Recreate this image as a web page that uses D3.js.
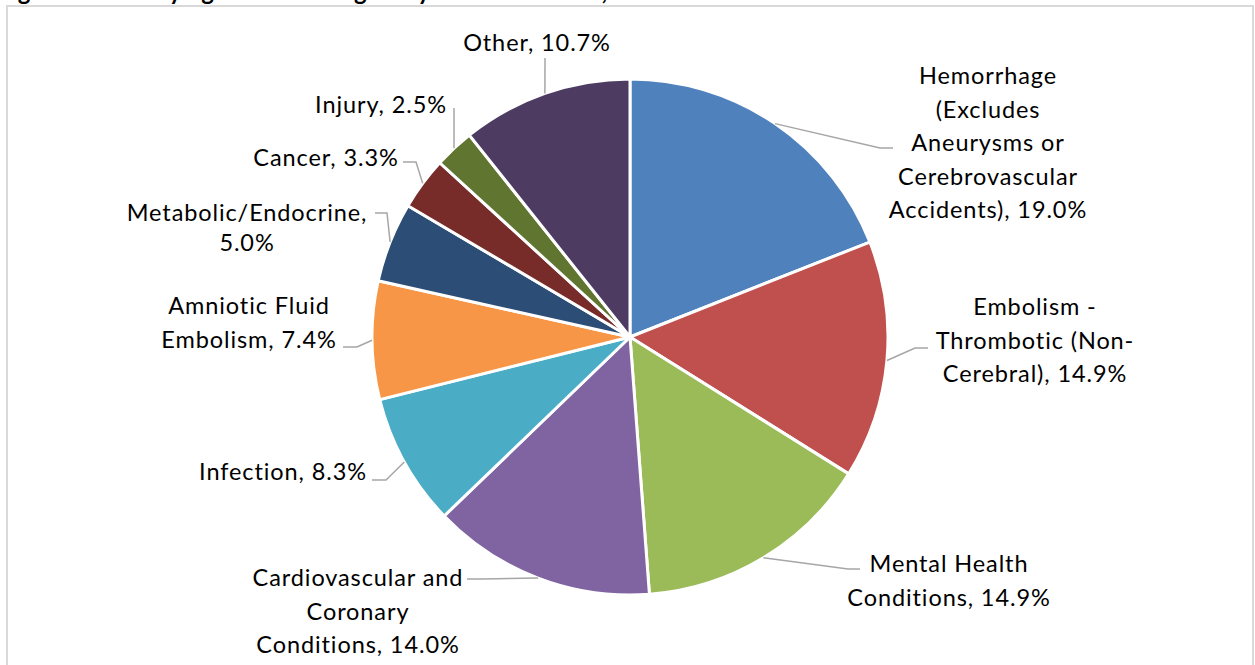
<!DOCTYPE html>
<html>
<head>
<meta charset="utf-8">
<script src="https://cdn.jsdelivr.net/npm/d3@7"></script>
<style>
  html, body { margin: 0; padding: 0; background: #fff; }
  svg { display: block; }
</style>
</head>
<body>
<div id="chart"></div>
<script>
// slices, clockwise from 12 o'clock
var causes = [
    'Hemorrhage (Excludes Aneurysms or Cerebrovascular Accidents)',
    'Embolism - Thrombotic (Non-Cerebral)',
    'Mental Health Conditions',
    'Cardiovascular and Coronary Conditions',
    'Infection',
    'Amniotic Fluid Embolism',
    'Metabolic/Endocrine',
    'Cancer',
    'Injury',
    'Other'
];
var shares = [19.0, 14.9, 14.9, 14.0, 8.3, 7.4, 5.0, 3.3, 2.5, 10.7];
var colors = ['#4f81bd', '#c0504d', '#9bbb59', '#8064a2', '#4bacc6',
              '#f79646', '#2c4d75', '#772c2a', '#5f7530', '#4d3b62'];

// how each label wraps (last line gets the value appended)
var labelLines = [
    ['Hemorrhage', '(Excludes', 'Aneurysms or', 'Cerebrovascular', 'Accidents),'],
    ['Embolism -', 'Thrombotic (Non-', 'Cerebral),'],
    ['Mental Health', 'Conditions,'],
    ['Cardiovascular and', 'Coronary', 'Conditions,'],
    ['Infection,'],
    ['Amniotic Fluid', 'Embolism,'],
    ['Metabolic/Endocrine,', ''],
    ['Cancer,'],
    ['Injury,'],
    ['Other,']
];

// label placement: text centre x, first baseline y, leader elbow and end
var labelPos = [
    { x: 988, y: 84, elbow: [880, 148], end: [893, 148] },
    { x: 1035, y: 315, elbow: [915, 348], end: [928, 348] },
    { x: 949, y: 572, elbow: [848, 569], end: [860, 569] },
    { x: 358, y: 586, elbow: [482, 579], end: [467, 579] },
    { x: 283, y: 480, elbow: [386, 480], end: [372, 480] },
    { x: 249, y: 314, elbow: [357, 347], end: [343, 347] },
    { x: 247, y: 221, elbow: [387, 213], end: [375, 213] },
    { x: 326, y: 166, elbow: [416, 162], end: [403, 162] },
    { x: 381, y: 113, elbow: [454, 108], end: [454, 108] },
    { x: 537, y: 51, elbow: [545, 58], end: [545, 58] }
];

var width = 1255;
var height = 665;
var cx = 630;
var cy = 337;
var radius = 258;
var fmt = d3.format('.1f');

var svg = d3.select('#chart')
    .append('svg')
    .attr('width', width)
    .attr('height', height);

// title sits above the frame, only its descenders show
svg.append('text')
    .attr('x', -2)
    .attr('y', 0)
    .style('font-family', 'Lato, Carlito, sans-serif')
    .style('font-weight', 'bold')
    .style('font-size', '24px')
    .text('Figure 3. Underlying Cause of Pregnancy-Related Deaths, 2013-2017');

svg.append('rect')
    .attr('x', 7)
    .attr('y', 6)
    .attr('width', 1246)
    .attr('height', 700)
    .attr('fill', 'none')
    .attr('stroke', '#d9d9d9')
    .attr('stroke-width', 2);

var data = causes.map(function (c, i) {
    return { cause: c, value: shares[i], color: colors[i], lines: labelLines[i], pos: labelPos[i] };
});

var pie = d3.pie().sort(null).value(d => d.value);
var arc = d3.arc().innerRadius(0).outerRadius(radius);
var edge = d3.arc().innerRadius(radius).outerRadius(radius);

var g = svg.append('g').attr('transform', `translate(${cx},${cy})`);

var arcs = pie(data);

g.selectAll('path.slice')
    .data(arcs)
    .enter()
    .append('path')
    .attr('class', 'slice')
    .attr('d', arc)
    .attr('fill', d => d.data.color)
    .attr('stroke', '#fff')
    .attr('stroke-width', 3)
    .attr('stroke-linejoin', 'round');

// leader lines
svg.selectAll('polyline.leader')
    .data(arcs)
    .enter()
    .append('polyline')
    .attr('class', 'leader')
    .attr('points', function (d) {
        var c = edge.centroid(d);
        var p = d.data.pos;
        return [[c[0] + cx, c[1] + cy], p.elbow, p.end].map(q => q.join(',')).join(' ');
    })
    .attr('fill', 'none')
    .attr('stroke', '#a6a6a6')
    .attr('stroke-width', 1.5);

// labels
var labels = svg.selectAll('text.label')
    .data(data)
    .enter()
    .append('text')
    .attr('class', 'label')
    .attr('text-anchor', 'middle')
    .style('font-family', 'Lato, Carlito, sans-serif')
    .style('font-size', '23.5px')
    .style('letter-spacing', '0.9px')
    .style('fill', '#000');

labels.each(function (d) {
    var t = d3.select(this);
    var n = d.lines.length;
    d.lines.forEach(function (line, i) {
        var txt = line;
        if (i === n - 1) txt = (line ? line + ' ' : '') + fmt(d.value) + '%';
        t.append('tspan')
            .attr('x', d.pos.x)
            .attr('y', d.pos.y + i * (d.lines[1] === '' ? 30 : 33.5))
            .text(txt);
    });
});
</script>
</body>
</html>
